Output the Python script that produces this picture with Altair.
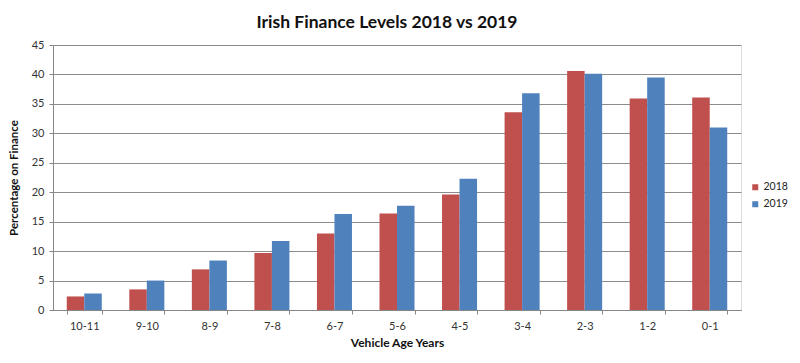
import altair as alt
import pandas as pd

categories = ["10-11", "9-10", "8-9", "7-8", "6-7", "5-6", "4-5", "3-4", "2-3", "1-2", "0-1"]
values_2018 = [2.3, 3.5, 6.9, 9.7, 13.0, 16.4, 19.6, 33.6, 40.6, 35.9, 36.1]
values_2019 = [2.8, 5.0, 8.4, 11.7, 16.3, 17.7, 22.3, 36.8, 40.1, 39.5, 31.0]
years = ["2018", "2019"]

rows = []
for c, a, b in zip(categories, values_2018, values_2019):
    rows.append({"age": c, "year": years[0], "pct": a})
    rows.append({"age": c, "year": years[1], "pct": b})
df = pd.DataFrame(rows)

font = "Lato"

chart = alt.Chart(df).mark_bar().encode(
    x=alt.X("age:N", sort=categories, title="Vehicle Age Years",
            scale=alt.Scale(paddingInner=0.44, paddingOuter=0.22),
            axis=alt.Axis(labelAngle=0, tickBand="extent", tickSize=4,
                          domainColor="#868686", tickColor="#868686",
                          labelColor="#333333", labelFontSize=11, labelFont=font,
                          titleFont=font, titleFontSize=12, titleFontWeight="bold",
                          titleColor="#111111", labelPadding=6, titlePadding=6)),
    xOffset=alt.XOffset("year:N", sort=years, scale=alt.Scale(paddingInner=0, paddingOuter=0)),
    y=alt.Y("pct:Q", title="Percentage on Finance",
            scale=alt.Scale(domain=[0, 45], nice=False),
            axis=alt.Axis(values=list(range(0, 46, 5)), tickSize=4,
                          domainColor="#868686", tickColor="#868686",
                          gridColor="#8c8c8c", gridWidth=1,
                          labelColor="#333333", labelFontSize=11, labelFont=font,
                          titleFont=font, titleFontSize=11.5, titleFontWeight="bold",
                          titleColor="#111111", labelPadding=5, titlePadding=12)),
    color=alt.Color("year:N", sort=years,
                    scale=alt.Scale(domain=years, range=["#C0504D", "#4F81BD"]),
                    legend=alt.Legend(title=None, orient="none", legendX=697, legendY=137,
                                      symbolType="square", symbolSize=36,
                                      symbolStrokeWidth=0, labelFont=font,
                                      labelFontSize=10.5, labelColor="#222222",
                                      rowPadding=6, labelOffset=3)),
).properties(
    width=688, height=265,
    title=alt.TitleParams("Irish Finance Levels 2018 vs 2019", font=font, fontSize=17.5,
                          fontWeight="bold", color="#111111", anchor="middle",
                          dx=-10, offset=8),
    autosize=alt.AutoSizeParams(type="none"),
    padding={"left": 45, "top": 37, "right": 51, "bottom": 45},
).configure_view(stroke=None).configure(background="white")

chart.save("out.html", embed_options={"renderer": "svg", "actions": False})
